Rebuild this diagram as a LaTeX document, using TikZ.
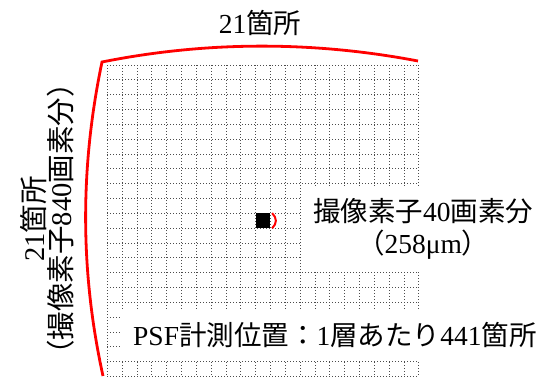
\documentclass[tikz,border=0pt]{standalone}
\usepackage{fontspec}
\setmainfont{Liberation Serif}
\newfontfamily\jpfont{Noto Sans CJK JP}
\newcommand{\jp}[1]{{\jpfont #1}}

\begin{document}
\begin{tikzpicture}[x=1pt, y=-1pt, >=stealth,
    gridline/.style={black!70, line width=0.7pt, dash pattern=on 0.9pt off 2.1pt},
    redline/.style={red, line width=2.8pt},
    txtlabel/.style={font=\fontsize{27.5}{31}\selectfont, inner sep=0pt}]
    \useasboundingbox (0,0) rectangle (538,376);

    % 21 x 21 grid of measuring cells
    \foreach \i in {0,...,21} {
        \draw[gridline] (107.3+\i*14.83,65) -- (107.3+\i*14.83,376.4);
        \draw[gridline] (107.3,65+\i*14.83) -- (418.7,65+\i*14.83);
    }

    % one cell and its size
    \node[fill=black, minimum size=14.83pt, inner sep=0pt] (pixel) at (263,220.7) {};
    \draw[red, line width=2pt] ([xshift=1.5pt]pixel.north east) .. controls +(5,5) and +(5,-5) .. ([xshift=1.5pt]pixel.south east);
    \node[txtlabel, fill=white, anchor=west, align=center, inner xsep=11pt,
          minimum height=85pt, font=\fontsize{27.5}{32}\selectfont] (pixtext) at (302,228.5)
        {\jp{撮像素子}40\jp{画素分}\\\jp{（}258μm\jp{）}};

    % bottom note
    \node[txtlabel, fill=white, anchor=west, inner xsep=12pt, minimum height=50pt] (psftext) at (121,335)
        {PSF\jp{計測位置：}1\jp{層あたり}441\jp{箇所}};

    % field edges
    \coordinate (tl) at (102,62);
    \coordinate (tr) at (418,61);
    \coordinate (bl) at (103,376);
    \draw[redline] (bl) .. controls (80,271) and (80,167) .. (tl) .. controls (207,41) and (313,41) .. (tr);

    \node[txtlabel] (toplabel) at (260,23) {21\jp{箇所}};
    \node[txtlabel, rotate=90, align=center, font=\fontsize{28.5}{27}\selectfont] (sidelabel) at (47,219)
        {21\jp{箇所}\\\jp{（撮像素子}840\jp{画素分）}};
\end{tikzpicture}
\end{document}
